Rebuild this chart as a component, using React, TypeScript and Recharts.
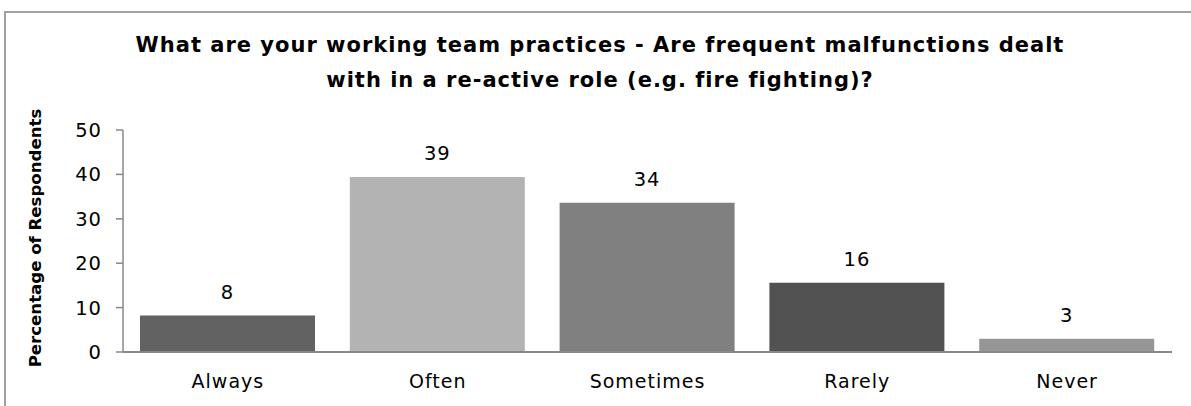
import { Bar, BarChart, Cell, LabelList, XAxis, YAxis } from "recharts";

const CATEGORIES = ["Always", "Often", "Sometimes", "Rarely", "Never"];
const PERCENTAGES = [8.2, 39.4, 33.6, 15.6, 3.0];
const BAR_COLORS = ["#626262", "#b3b3b3", "#808080", "#525252", "#969696"];
const Y_TICKS = [0, 10, 20, 30, 40, 50];

const TITLE_LINES = [
  "What are your working team practices - Are frequent malfunctions dealt",
  "with in a re-active role (e.g. fire fighting)?",
];
const Y_LABEL = "Percentage of Respondents";

const FONT = "'DejaVu Sans', sans-serif";

const data = CATEGORIES.map((c, i) => ({ name: c, value: PERCENTAGES[i] }));

export default function App() {
  return (
    <div
      style={{
        position: "absolute",
        left: 0,
        top: 0,
        width: 1191,
        height: 406,
        overflow: "hidden",
        background: "#fff",
        fontFamily: FONT,
      }}
    >
      {/* frame: only top and left edges are visible in the picture */}
      <div
        style={{
          position: "absolute",
          left: 4,
          top: 11,
          width: 1200,
          height: 400,
          borderTop: "2px solid #a0a0a0",
          borderLeft: "2px solid #a0a0a0",
        }}
      />
      <div
        style={{
          position: "absolute",
          left: 0,
          top: 28,
          width: 1200,
          textAlign: "center",
          fontWeight: 700,
          fontSize: 21,
          letterSpacing: 1,
          lineHeight: "35px",
          color: "#000",
        }}
      >
        {TITLE_LINES.map((t) => (
          <div key={t}>{t}</div>
        ))}
      </div>
      <div
        style={{
          position: "absolute",
          left: 35,
          top: 238,
          transform: "translate(-50%, -50%) rotate(-90deg)",
          whiteSpace: "nowrap",
          fontWeight: 700,
          fontSize: 16.6,
          color: "#000",
        }}
      >
        {Y_LABEL}
      </div>
      <BarChart
        width={1191}
        height={406}
        data={data}
        margin={{ top: 130, right: 19, bottom: 0, left: 0 }}
        style={{ position: "absolute", left: 0, top: 0 }}
      >
        <XAxis
          dataKey="name"
          height={54}
          tickLine={false}
          tickSize={0}
          tickMargin={23}
          axisLine={{ stroke: "#888888", strokeWidth: 2 }}
          tick={{ fill: "#000", fontSize: 19, fontFamily: FONT, letterSpacing: 1 }}
        />
        <YAxis
          width={123}
          domain={[0, 50]}
          ticks={Y_TICKS}
          interval={0}
          tickSize={7}
          tickMargin={14}
          axisLine={{ stroke: "#888888", strokeWidth: 1.5 }}
          tickLine={{ stroke: "#888888", strokeWidth: 1.5 }}
          tick={{ fill: "#000", fontSize: 19.5, fontFamily: FONT, letterSpacing: 1 }}
        />
        <Bar dataKey="value" barSize={175} isAnimationActive={false}>
          {data.map((d, i) => (
            <Cell key={d.name} fill={BAR_COLORS[i]} />
          ))}
          <LabelList
            dataKey="value"
            position="top"
            offset={17}
            formatter={(v: number) => Math.round(v)}
            style={{ fill: "#000", fontSize: 19.5, fontFamily: FONT, letterSpacing: 1 }}
          />
        </Bar>
      </BarChart>
    </div>
  );
}
